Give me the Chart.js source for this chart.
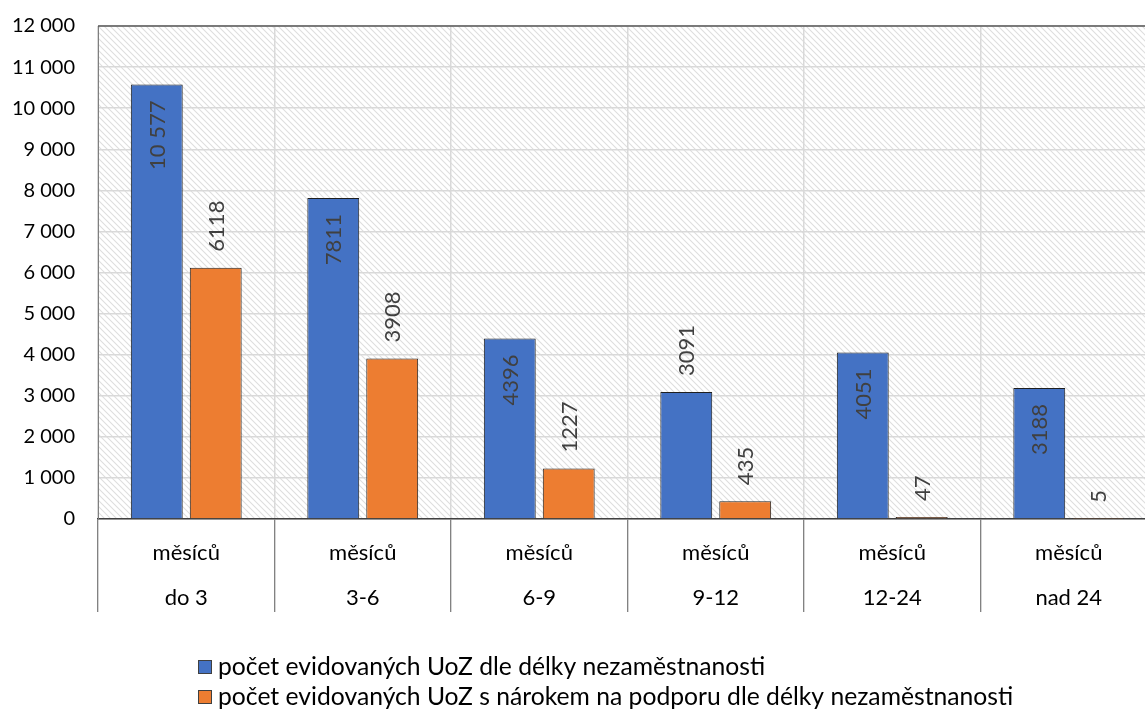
<!DOCTYPE html>
<html>
<head>
<meta charset="utf-8">
<script src="https://cdn.jsdelivr.net/npm/chart.js@4.4.1/dist/chart.umd.min.js"></script>
<style>
  html, body { margin: 0; padding: 0; overflow: hidden; background: #fff; }
  #wrap { width: 1160px; height: 715px; }
</style>
</head>
<body>
<div id="wrap"><canvas id="barChart" width="1160" height="715"></canvas></div>
<script>
// data
var categories = ['do 3', '3-6', '6-9', '9-12', '12-24', 'nad 24'];
var uozCelkem = [10577, 7811, 4396, 3091, 4051, 3188];
var uozPodpora = [6118, 3908, 1227, 435, 47, 5];
var seriesNames = [
  'počet evidovaných UoZ dle délky nezaměstnanosti',
  'počet evidovaných UoZ s nárokem na podporu dle délky nezaměstnanosti'
];
var yMin = 0, yMax = 12000, yStep = 1000;

// where the value labels sit (in = inside bar top, out = above bar)
var labelPlace = [
  ['in', 'in', 'in', 'out', 'in', 'in'],
  ['out', 'out', 'out', 'out', 'out', 'out']
];

var FONT = 'Lato, "Open Sans", sans-serif';
Chart.defaults.font.family = FONT;
Chart.defaults.color = '#000';

function spaced(v) {
  return String(v).replace(/\B(?=(\d{3})+(?!\d))/g, ' ');
}
function valueText(v) {
  return v >= 10000 ? spaced(v) : String(v);
}

var hatch = null;
function getHatch(ctx) {
  if (hatch) return hatch;
  var c = document.createElement('canvas');
  c.width = 6; c.height = 6;
  var g = c.getContext('2d');
  g.fillStyle = '#fff';
  g.fillRect(0, 0, 6, 6);
  g.strokeStyle = '#dedede';
  g.lineWidth = 1.1;
  g.beginPath();
  g.moveTo(-1, -1); g.lineTo(7, 7);
  g.moveTo(-1, 5); g.lineTo(1, 7);
  g.moveTo(5, -1); g.lineTo(7, 1);
  g.stroke();
  hatch = ctx.createPattern(c, 'repeat');
  return hatch;
}

var decor = {
  id: 'decor',
  beforeDraw: function(chart) {
    var a = chart.chartArea, ctx = chart.ctx;
    ctx.save();
    ctx.fillStyle = getHatch(ctx);
    ctx.fillRect(a.left, a.top, a.right - a.left, a.bottom - a.top);
    ctx.restore();
  },
  afterDatasetsDraw: function(chart) {
    var ctx = chart.ctx;
    ctx.save();
    ctx.font = '22px ' + FONT;
    ctx.fillStyle = '#404040';
    ctx.textBaseline = 'middle';
    chart.data.datasets.forEach(function(ds, di) {
      var meta = chart.getDatasetMeta(di);
      meta.data.forEach(function(bar, i) {
        var place = labelPlace[di][i];
        ctx.save();
        ctx.translate(bar.x, bar.y);
        ctx.rotate(-Math.PI / 2);
        if (place === 'in') {
          ctx.textAlign = 'right';
          ctx.fillText(valueText(ds.data[i]), -16, 1);
        } else {
          ctx.textAlign = 'left';
          ctx.fillText(valueText(ds.data[i]), 16, 1);
        }
        ctx.restore();
      });
    });
    ctx.restore();
  },
  afterDraw: function(chart) {
    var a = chart.chartArea, ctx = chart.ctx;
    ctx.save();
    // top frame line
    ctx.strokeStyle = '#595959';
    ctx.lineWidth = 1.5;
    ctx.beginPath();
    ctx.moveTo(a.left, a.top);
    ctx.lineTo(a.right, a.top);
    ctx.stroke();

    // legend, two rows
    var xs = chart.scales.x;
    var x0 = 198;
    var base = [xs.bottom + 63, xs.bottom + 93];
    ctx.font = '24.7px ' + FONT;
    ctx.textAlign = 'left';
    ctx.textBaseline = 'alphabetic';
    chart.data.datasets.forEach(function(ds, di) {
      var y = base[di];
      ctx.fillStyle = ds.backgroundColor;
      ctx.fillRect(x0, y - 15, 14, 14);
      ctx.strokeStyle = '#404040';
      ctx.lineWidth = 1;
      ctx.strokeRect(x0 + 0.5, y - 14.5, 13, 13);
      ctx.fillStyle = '#000';
      ctx.fillText(ds.label, x0 + 20, y);
    });
    ctx.restore();
  }
};

var ctx = document.getElementById('barChart').getContext('2d');
new Chart(ctx, {
  type: 'bar',
  data: {
    labels: categories.map(function(c) { return ['měsíců', c]; }),
    datasets: [
      {
        label: seriesNames[0],
        data: uozCelkem,
        backgroundColor: '#4472C4',
        borderColor: '#1f1f1f',
        borderWidth: 1,
        categoryPercentage: 0.668,
        barPercentage: 0.88
      },
      {
        label: seriesNames[1],
        data: uozPodpora,
        backgroundColor: '#ED7D31',
        borderColor: '#1f1f1f',
        borderWidth: 1,
        categoryPercentage: 0.668,
        barPercentage: 0.88
      }
    ]
  },
  options: {
    responsive: false,
    animation: false,
    layout: { padding: { top: 26, right: 3, bottom: 103, left: 0 } },
    plugins: {
      legend: { display: false },
      tooltip: { enabled: false }
    },
    scales: {
      x: {
        grid: {
          offset: true,
          color: '#d9d9d9',
          lineWidth: 1.5,
          tickColor: '#595959',
          tickWidth: 1,
          tickLength: 93
        },
        border: { color: '#404040', width: 1.5 },
        ticks: {
          padding: -82,
          maxRotation: 0,
          autoSkip: false,
          color: '#000',
          font: { size: 22, lineHeight: '45px' }
        },
        afterFit: function(scale) { scale.height = 93; }
      },
      y: {
        min: yMin,
        max: yMax,
        grid: { color: '#d9d9d9', lineWidth: 1.5, drawTicks: false },
        border: { color: '#7f7f7f', width: 1 },
        ticks: {
          stepSize: yStep,
          padding: 23,
          color: '#000',
          font: { size: 20 },
          callback: function(v) { return spaced(v); }
        },
        afterFit: function(scale) {
          scale.width = 98;
          scale.paddingTop = 0;
        }
      }
    }
  },
  plugins: [decor]
});
</script>
</body>
</html>
